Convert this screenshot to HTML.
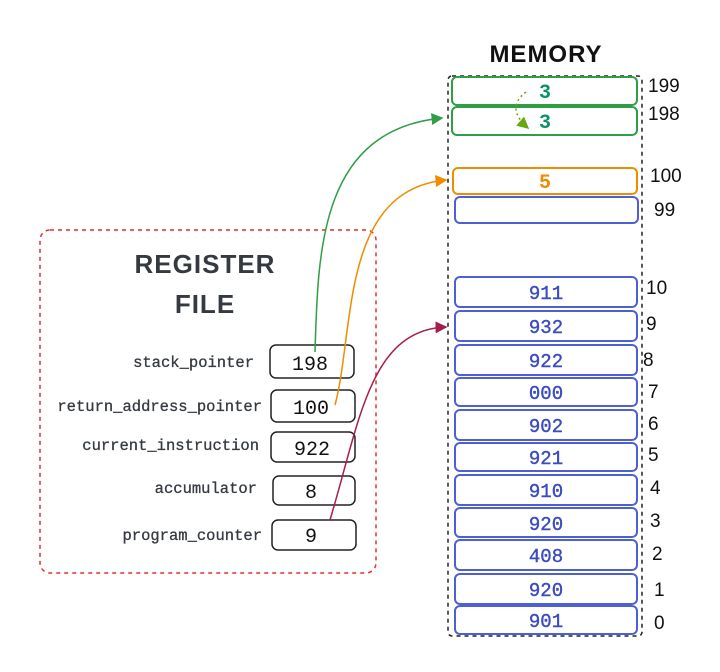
<!DOCTYPE html>
<html><head><style>
body{margin:0;background:#fff;}
svg{display:block;}
.mono{font-family:"Liberation Mono",monospace;}
.hand{font-family:"Liberation Sans",sans-serif;font-weight:bold;}
</style></head><body>
<svg width="720" height="672" viewBox="0 0 720 672" xmlns="http://www.w3.org/2000/svg">
<defs>
<marker id="ag" markerWidth="8" markerHeight="8" refX="7" refY="4" orient="auto"><path d="M0,0 L8,4 L0,8 z" fill="#2f9e44"/></marker>
<marker id="ao" markerWidth="8" markerHeight="8" refX="7" refY="4" orient="auto"><path d="M0,0 L8,4 L0,8 z" fill="#f08c00"/></marker>
<marker id="ar" markerWidth="8" markerHeight="8" refX="7" refY="4" orient="auto"><path d="M0,0 L8,4 L0,8 z" fill="#a61e4d"/></marker>
<marker id="al" markerWidth="8" markerHeight="8" refX="7" refY="4" orient="auto"><path d="M0,0 L8,4 L0,8 z" fill="#66a80f"/></marker>
</defs>
<text x="546" y="62" text-anchor="middle" class="hand" font-size="24" fill="#111" letter-spacing="1">MEMORY</text>
<rect x="448" y="76" width="194" height="560" rx="4" fill="none" stroke="#222" stroke-width="1.5" stroke-dasharray="4,4"/>
<g stroke-width="2" fill="#fff">
<rect x="452" y="77" width="185" height="28" rx="5" stroke="#2f9e44"/>
<rect x="452" y="107" width="185" height="28" rx="5" stroke="#2f9e44"/>
<rect x="453" y="168" width="184" height="26" rx="5" stroke="#f08c00"/>
<rect x="455" y="197" width="183" height="26" rx="5" stroke="#4c5fd5"/>
<rect x="455" y="277" width="182" height="30" rx="5" stroke="#4c5fd5"/>
<rect x="455" y="311" width="182" height="30" rx="5" stroke="#4c5fd5"/>
<rect x="455" y="345" width="182" height="30" rx="5" stroke="#4c5fd5"/>
<rect x="455" y="378" width="182" height="28" rx="5" stroke="#4c5fd5"/>
<rect x="455" y="410" width="182" height="30" rx="5" stroke="#4c5fd5"/>
<rect x="455" y="443" width="182" height="28" rx="5" stroke="#4c5fd5"/>
<rect x="455" y="475" width="182" height="30" rx="5" stroke="#4c5fd5"/>
<rect x="455" y="508" width="182" height="29" rx="5" stroke="#4c5fd5"/>
<rect x="455" y="540" width="182" height="30" rx="5" stroke="#4c5fd5"/>
<rect x="455" y="574" width="182" height="30" rx="5" stroke="#4c5fd5"/>
<rect x="455" y="606" width="182" height="28" rx="5" stroke="#4c5fd5"/>
</g>
<g class="mono" font-size="20" font-weight="bold" text-anchor="middle">
<text x="545" y="98" fill="#099268">3</text>
<text x="545" y="128" fill="#099268">3</text>
<text x="545" y="188" fill="#f08c00">5</text>
</g>
<g class="mono" font-size="19" text-anchor="middle" fill="#3b4cc0" stroke="#3b4cc0" stroke-width="0.4">
<text x="546" y="299">911</text><text x="546" y="333">932</text><text x="546" y="367">922</text>
<text x="546" y="399">000</text><text x="546" y="432">902</text><text x="546" y="464">921</text>
<text x="546" y="497">910</text><text x="546" y="530">920</text><text x="546" y="562">408</text>
<text x="546" y="596">920</text><text x="546" y="627">901</text>
</g>
<path d="M526,92 Q505,108 528,128" fill="none" stroke="#66a80f" stroke-width="1.5" stroke-dasharray="2,3" marker-end="url(#al)"/>
<g font-family="Liberation Sans,sans-serif" font-size="19" fill="#111">
<text x="648" y="92">199</text><text x="648" y="120">198</text>
<text x="650" y="182">100</text><text x="654" y="216">99</text>
<text x="646" y="294">10</text><text x="646" y="330">9</text><text x="643" y="366">8</text>
<text x="648" y="398">7</text><text x="648" y="430">6</text><text x="648" y="461">5</text>
<text x="650" y="494">4</text><text x="650" y="527">3</text><text x="652" y="560">2</text>
<text x="654" y="596">1</text><text x="654" y="629">0</text>
</g>
<rect x="40" y="230" width="336" height="343" rx="10" fill="none" stroke="#e03131" stroke-width="1.5" stroke-dasharray="4,4"/>
<text x="205" y="273" text-anchor="middle" class="hand" font-size="26" fill="#343a40" letter-spacing="1">REGISTER</text>
<text x="205" y="313" text-anchor="middle" class="hand" font-size="26" fill="#343a40" letter-spacing="1">FILE</text>
<g class="mono" font-size="15.5" fill="#343a40" text-anchor="end" stroke="#343a40" stroke-width="0.3">
<text x="254" y="367">stack_pointer</text>
<text x="262" y="411">return_address_pointer</text>
<text x="259" y="450">current_instruction</text>
<text x="257" y="493">accumulator</text>
<text x="262" y="540">program_counter</text>
</g>
<g fill="none" stroke="#222" stroke-width="1.5">
<rect x="270" y="345" width="84" height="33" rx="6"/>
<rect x="271" y="390" width="84" height="32" rx="6"/>
<rect x="271" y="432" width="84" height="30" rx="6"/>
<rect x="273" y="476" width="82" height="29" rx="6"/>
<rect x="272" y="520" width="84" height="30" rx="6"/>
</g>
<g class="mono" font-size="20" fill="#111" text-anchor="middle">
<text x="310" y="370">198</text><text x="311" y="414">100</text><text x="312" y="455">922</text>
<text x="311" y="498">8</text><text x="311" y="542">9</text>
</g>
<path d="M315,352 C318,250 320,130 442,118" fill="none" stroke="#2f9e44" stroke-width="1.5" marker-end="url(#ag)"/>
<path d="M335,405 C355,330 340,190 446,180" fill="none" stroke="#f08c00" stroke-width="1.5" marker-end="url(#ao)"/>
<path d="M330,520 C360,420 370,330 446,327" fill="none" stroke="#a61e4d" stroke-width="1.5" marker-end="url(#ar)"/>
</svg>
</body></html>
